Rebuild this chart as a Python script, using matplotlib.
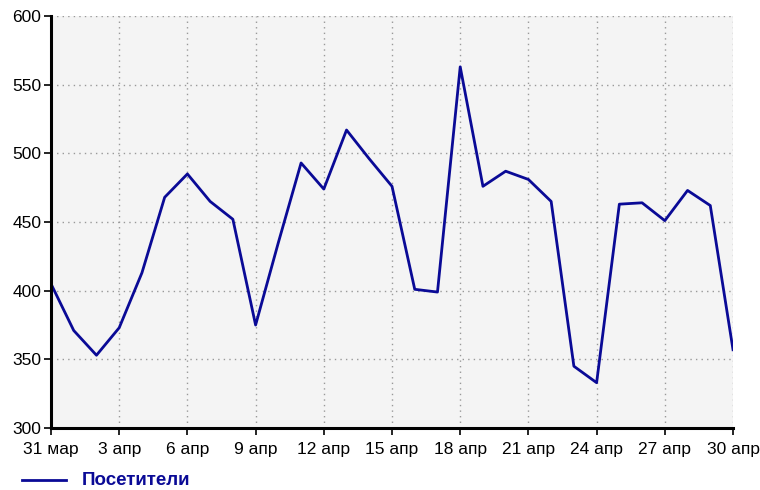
import matplotlib
matplotlib.use("Agg")
import matplotlib.pyplot as plt
from matplotlib.lines import Line2D

# daily visitors, 31 mar .. 30 apr
days = list(range(31))
visitors = [405, 371, 353, 373, 413, 468, 485, 465, 452, 375,
            435, 493, 474, 517, 496, 476, 401, 399, 563, 476,
            487, 481, 465, 345, 333, 463, 464, 451, 473, 462, 357]
tick_days = [0, 3, 6, 9, 12, 15, 18, 21, 24, 27, 30]
tick_labels = ["31 мар", "3 апр", "6 апр", "9 апр", "12 апр", "15 апр",
               "18 апр", "21 апр", "24 апр", "27 апр", "30 апр"]
y_ticks = [300, 350, 400, 450, 500, 550, 600]
series_name = "Посетители"

plt.rcParams['font.family'] = ['Liberation Sans', 'DejaVu Sans']

fig = plt.figure(figsize=(7.6, 4.9), dpi=100)
ax = fig.add_axes([0.0671, 0.1265, 0.8974, 0.8408])
ax.set_facecolor('#f4f4f4')

ax.plot(days, visitors, color='#0a0a96', linewidth=2.0)

ax.set_xlim(0, 30)
ax.set_ylim(300, 600)
ax.set_xticks(tick_days)
ax.set_xticklabels(tick_labels)
ax.set_yticks(y_ticks)

ax.grid(True, color='#999999', linestyle=(0, (1, 3)), linewidth=1.0)
ax.set_axisbelow(True)

for side in ['top', 'right']:
    ax.spines[side].set_visible(False)
for side in ['left', 'bottom']:
    ax.spines[side].set_linewidth(2.2)
    ax.spines[side].set_color('black')

ax.tick_params(axis='both', direction='out', length=5, width=1.2,
               labelsize=12.5, colors='black')
ax.tick_params(axis='x', pad=5)
ax.tick_params(axis='y', pad=2)

# legend under the chart
fig.add_artist(Line2D([22 / 760, 66 / 760], [1 - 480 / 490, 1 - 480 / 490],
                      color='#0a0a96', linewidth=2.0))
fig.text(82 / 760, 1 - 480 / 490, series_name, color='#0a0a96',
         fontsize=13.5, fontweight='bold', va='center', ha='left')

fig.savefig('out.png', dpi=100)
